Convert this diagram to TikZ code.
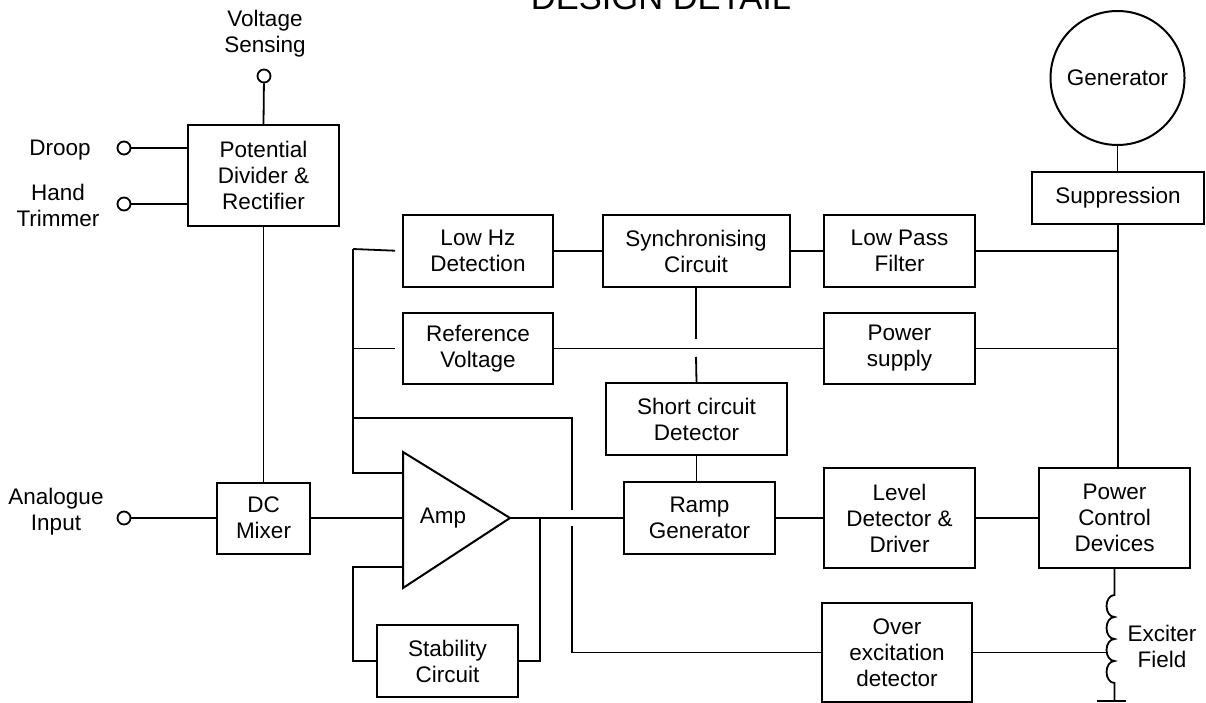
\documentclass[tikz,border=0pt]{standalone}
\usepackage{fontspec}
\setmainfont{Liberation Sans}

\begin{document}
\begin{tikzpicture}[x=1pt, y=-1pt, line width=1.8pt,
		font=\fontsize{22.5}{26}\selectfont,
		blk/.style={draw, line width=2pt, align=center, inner sep=0pt},
		term/.style={circle, draw, minimum size=13pt, inner sep=0pt},
		lbl/.style={align=center, inner sep=0pt}]
			\useasboundingbox (0,0) rectangle (1206,703);

			% Title
			\node[anchor=base, font=\fontsize{34.5}{40}\selectfont] (title) at (661,10) {DESIGN DETAIL};

			% Define input terminals with their labels
			\node[lbl] (vslbl) at (265,34) {Voltage\\Sensing};
			\node[term] (vs) at (264,76) {};
			\node[lbl] (drlbl) at (60,150) {Droop};
			\node[term] (dr) at (124,148) {};
			\node[lbl] (htlbl) at (58,205) {Hand\\Trimmer};
			\node[term] (ht) at (124,204) {};
			\node[lbl] (ailbl) at (56,512) {Analogue\\Input};
			\node[term] (ai) at (124,518) {};

			% Define blocks with their coordinates
			\node[blk, minimum width=151pt, minimum height=101pt] (pdr) at (263.5,175.5) {Potential\\Divider \&\\Rectifier};
			\node[blk, minimum width=93pt, minimum height=71pt] (dcm) at (263.5,518) {DC\\Mixer};
			\node[blk, minimum width=150pt, minimum height=72pt] (lowhz) at (478,251) {Low Hz\\Detection};
			\node[blk, minimum width=150pt, minimum height=71pt] (refv) at (478,348.5) {Reference\\Voltage};
			\node[blk, minimum width=187pt, minimum height=72pt] (sync) at (696,251) {Synchronising\\Circuit};
			\node[blk, minimum width=151pt, minimum height=72pt] (lpf) at (899.5,251) {Low Pass\\Filter};
			\node[blk, minimum width=151pt, minimum height=71pt] (psu) at (899.5,348.5) {Power\\supply};
			\node[blk, minimum width=181pt, minimum height=72pt] (scd) at (696.5,419) {Short circuit\\Detector};
			\node[blk, minimum width=151pt, minimum height=72pt] (ramp) at (699.5,518) {Ramp\\Generator};
			\node[blk, minimum width=151pt, minimum height=100pt] (lvl) at (899.5,518) {Level\\Detector \&\\Driver};
			\node[blk, minimum width=151pt, minimum height=100pt] (pcd) at (1114.5,518) {Power\\Control\\Devices};
			\node[blk, minimum width=172pt, minimum height=52pt] (sup) at (1118,198) {Suppression};
			\node[blk, circle, minimum size=134pt] (gen) at (1117.5,78) {Generator};
			\node[blk, minimum width=141pt, minimum height=72pt] (stab) at (447.5,661) {Stability\\Circuit};
			\node[blk, minimum width=150pt, minimum height=99pt] (ovx) at (897,652.5) {Over\\excitation\\detector};

			% Amplifier
			\coordinate (ampT) at (403,452);
			\coordinate (ampB) at (403,588);
			\coordinate (amptip) at (510,518);
			\draw[line width=2pt, line join=miter] (ampT) -- (amptip) -- (ampB) -- cycle;
			\node (amp) at (443,518) {Amp};

			% Bus coordinates
			\coordinate (busL) at (353,249);
			\coordinate (busR) at (1118,251);
			\coordinate (cross) at (572,418);
			\coordinate (fb) at (540,518);
			\coordinate (coilT) at (1114.5,595);
			\coordinate (gnd) at (1114.5,701);
			\coordinate (exlbl) at (1162,646);

			% Draw the connections
			\draw (vs) -- (pdr.north);
			\draw (dr) -- (dr -| pdr.west);
			\draw (ht) -- (ht -| pdr.west);
			\draw (pdr.south) -- (dcm.north);
			\draw (ai) -- (dcm.west);
			\draw (dcm.east) -- (dcm.east -| ampT);
			\draw[shorten >=7pt] (busL) -- (lowhz.west);
			\draw[shorten >=7pt] (busL |- refv) -- (refv.west);
			\draw (busL) -- (353,473) -- (403,473);
			\draw (403,567) -- (353,567) |- (stab.west);
			\draw (stab.east) -| (fb);
			\draw (busL |- cross) -- (cross) -- (572,510);
			\draw (572,526) |- (ovx.west);
			\draw (amptip) -- (ramp.west);
			\draw (lowhz.east) -- (sync.west);
			\draw (sync.east) -- (lpf.west);
			\draw (sync.south) -- (696,339);
			\draw (696,357) -- (scd.north);
			\draw (scd.south) -- (scd.south |- ramp.north);
			\draw (refv.east) -- (psu.west);
			\draw (ramp.east) -- (lvl.west);
			\draw (lvl.east) -- (pcd.west);
			\draw (lpf.east) -- (busR);
			\draw (psu.east) -- (psu.east -| busR);
			\draw (gen.south) -- (gen.south |- sup.north);
			\draw (sup.south) -- (sup.south |- pcd.north);

			% Exciter field winding
			\draw (pcd.south) -- (coilT)
				arc[start angle=90, end angle=270, x radius=8pt, y radius=11pt]
				arc[start angle=90, end angle=270, x radius=8pt, y radius=11pt]
				arc[start angle=90, end angle=270, x radius=8pt, y radius=11pt]
				arc[start angle=90, end angle=270, x radius=8pt, y radius=11pt]
				-- (gnd);
			\draw (1097,701) -- (1126,701);
			\draw (ovx.east) -- (ovx.east -| 1106,0);
			\node[lbl] (exf) at (exlbl) {Exciter\\Field};

		\end{tikzpicture}
\end{document}
